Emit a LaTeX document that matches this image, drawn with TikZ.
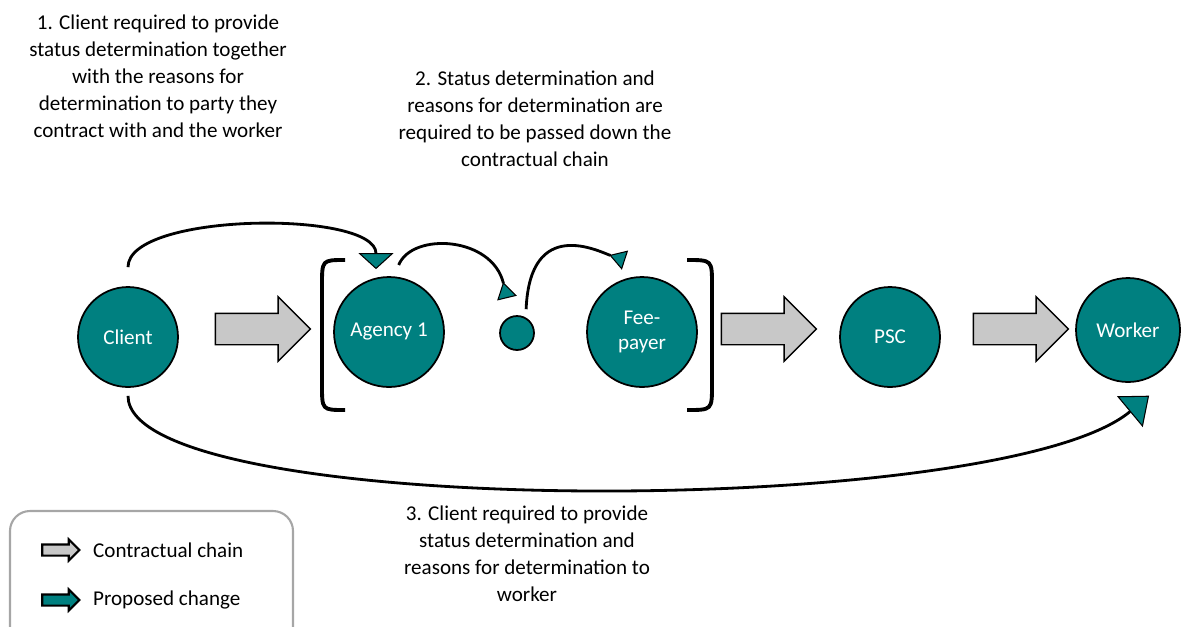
\documentclass[tikz,border=0pt]{standalone}
\usepackage{fontspec}
\setmainfont{Carlito}
\usetikzlibrary{arrows.meta,shapes.arrows}

\definecolor{partyteal}{RGB}{0,128,128}
\definecolor{chaingrey}{RGB}{200,200,200}
\definecolor{boxgrey}{RGB}{166,166,166}

\begin{document}
\begin{tikzpicture}[x=0.02cm, y=-0.02cm]

	\tikzstyle party=[circle, draw=black, line width=1pt, fill=partyteal, text=white, minimum size=2.2cm, inner sep=0pt, align=center, font=\fontsize{12}{14}\selectfont];
	\tikzstyle chain arrow=[single arrow, draw=black, line width=0.8pt, fill=chaingrey, minimum height=1.9cm, inner xsep=0pt, inner ysep=0.3cm, single arrow head extend=0.33cm];
	\tikzstyle legend arrow=[single arrow, draw=black, line width=1.2pt, minimum height=0.74cm, inner xsep=0pt, inner ysep=0.09cm, single arrow head extend=0.1cm];
	\tikzstyle change lines=[line width=1.6pt, -{Triangle[width=0.7cm,length=0.32cm,fill=partyteal,line width=0.6pt]}];
	\tikzstyle back tip=[-{Triangle[reversed,width=0.4cm,length=0.33cm,fill=partyteal,line width=0.6pt]}];
	\tikzstyle note=[align=center, font=\fontsize{12}{15.4}\selectfont];

	\useasboundingbox (0,0) rectangle (1182,626);

	\node[party, minimum size=2cm] (client) at (128,337) {Client};
	\node[party] (agency) at (389,332) {Agency 1};
	\node[party, minimum size=0.68cm] (mid) at (517,333) {};
	\node[party] (fee) at (642,332) {Fee-\\payer};
	\node[party, minimum size=2cm] (psc) at (890,337) {PSC};
	\node[party, minimum size=2.08cm] (worker) at (1128,330) {Worker};

	\foreach \x/\name in {255/chain1,761/chain2,1013/chain3}
		\node[chain arrow] (\name) at (\x,329) {};

	% brackets round the agencies
	\draw[line width=2.2pt] (345,260) .. controls (322,260) .. (322,285) -- (322,385) .. controls (322,410) .. (345,410);
	\draw[line width=2.2pt] (687,260) .. controls (712,260) .. (712,285) -- (712,385) .. controls (712,410) .. (687,410);

	\draw[change lines, shorten <=0.38cm] (client.north) .. controls (128,212) and (376,210) .. ([shift={(-13,-7)}]agency.north);
	\draw[change lines, back tip] ([shift={(0,-12)}]agency.80) .. controls (412,232) and (492,236) .. ([shift={(-10,-17)}]mid.north);
	\draw[change lines, back tip] ([shift={(3,-7)}]mid.70) .. controls (530,215) and (600,252) .. ([shift={(-17,-16)}]fee.north);
	\draw[change lines, -{Triangle[width=0.8cm,length=0.5cm,fill=partyteal,line width=0.6pt]}] ([shift={(0,8)}]client.south) .. controls (128,520) and (1000,520) .. ([shift={(3,16)}]worker.-70);

	\node[note] (step1) at (158,76) {1. Client required to provide\\status determination together\\with the reasons for\\determination to party they\\contract with and the worker};
	\node[note] (step2) at (535,119) {2. Status determination and\\reasons for determination are\\required to be passed down the\\contractual chain};
	\node[note] (step3) at (527,554) {3. Client required to provide\\status determination and\\reasons for determination to\\worker};

	% legend
	\draw[boxgrey, line width=1.2pt, rounded corners=0.4cm] (10,511) rectangle (293,660);
	\node[legend arrow, fill=chaingrey] (keychain) at (58,550) {};
	\node[legend arrow, fill=partyteal] (keychange) at (58,600) {};
	\node[note, anchor=west] (keychaintext) at (87,550) {Contractual chain};
	\node[note, anchor=west] (keychangetext) at (87,600) {Proposed change};

\end{tikzpicture}
\end{document}
